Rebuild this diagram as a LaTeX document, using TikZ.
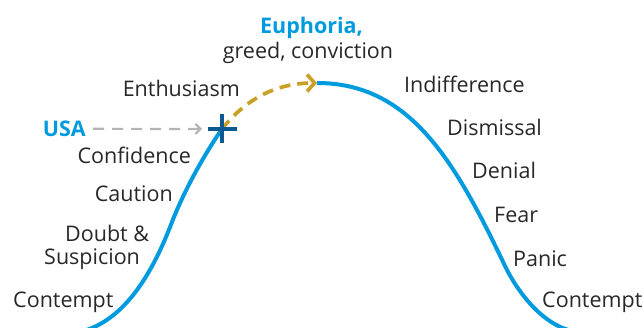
\documentclass[tikz,border=0pt]{standalone}
\usepackage{fontspec}
\setmainfont{Open Sans}
\usetikzlibrary{arrows.meta}
\definecolor{cblue}{RGB}{0,155,222}
\definecolor{cgold}{RGB}{201,160,40}
\definecolor{cdark}{RGB}{10,90,145}
\definecolor{cgray}{RGB}{180,180,180}
\definecolor{ctext}{RGB}{40,40,40}
\begin{document}
\begin{tikzpicture}[x=1pt,y=-1pt,
  lbl/.style={inner sep=0pt,text=ctext,font=\fontsize{21.5}{25}\selectfont},
  hl/.style={inner sep=0pt,text=cblue,font=\fontsize{21.5}{25}\selectfont\bfseries},
  curve/.style={cblue,line width=4pt},
  golddash/.style={cgold,line width=3.7pt,dash pattern=on 11pt off 7pt,
    -{Straight Barb[length=7.5pt,width=17pt,line width=3.7pt]}},
  graydash/.style={cgray,line width=2.2pt,dash pattern=on 11pt off 8pt,
    -{Straight Barb[length=5pt,width=10pt,line width=2.2pt]}},
  crossline/.style={cdark,line width=3.8pt}]
\useasboundingbox (0,0) rectangle (644,328);
\clip (0,0) rectangle (644,328);
\coordinate (X) at (222,129);
\coordinate (peak) at (317,83);
% curves
\draw[curve] (75,333) .. controls (120,325) and (150,280) .. (172,222)
  .. controls (186,186) and (208,149) .. (X);
\draw[curve] (peak) .. controls (410,83) and (455,161) .. (505,266)
  .. controls (517,291) and (545,330) .. (580,332);
\draw[golddash] (X) .. controls (245,100) and (275,83) .. (peak);
% labels
\node[hl,anchor=base west] (euph) at (260,34) {Euphoria,};
\node[lbl,anchor=base] (greed) at (308,59) {greed, conviction};
\node[lbl,anchor=base east] (enth) at (240,97) {Enthusiasm};
\node[hl,anchor=base east] (usa) at (86,136.5) {USA};
\node[lbl,anchor=base east] (conf) at (191,163.5) {Confidence};
\node[lbl,anchor=base east] (caut) at (173,201.5) {Caution};
\node[lbl,anchor=base west] (doubt) at (65,242) {Doubt \&};
\node[lbl,anchor=base west] (susp) at (44,265) {Suspicion};
\node[lbl,anchor=base west] (cont1) at (13,307) {Contempt};
\node[lbl,anchor=base west] (indiff) at (404,93) {Indifference};
\node[lbl,anchor=base west] (dism) at (447,136) {Dismissal};
\node[lbl,anchor=base west] (den) at (472,179) {Denial};
\node[lbl,anchor=base west] (fear) at (494,223) {Fear};
\node[lbl,anchor=base west] (panic) at (513,266) {Panic};
\node[lbl,anchor=base west] (cont2) at (542,307) {Contempt};
% USA arrow
\draw[graydash] ([xshift=7pt]usa.east) -- ([xshift=-20pt]X);
% cross
\draw[crossline] ([xshift=-14.5pt]X) -- ([xshift=14.5pt]X);
\draw[crossline] ([yshift=-14.5pt]X) -- ([yshift=14.5pt]X);
\end{tikzpicture}
\end{document}
